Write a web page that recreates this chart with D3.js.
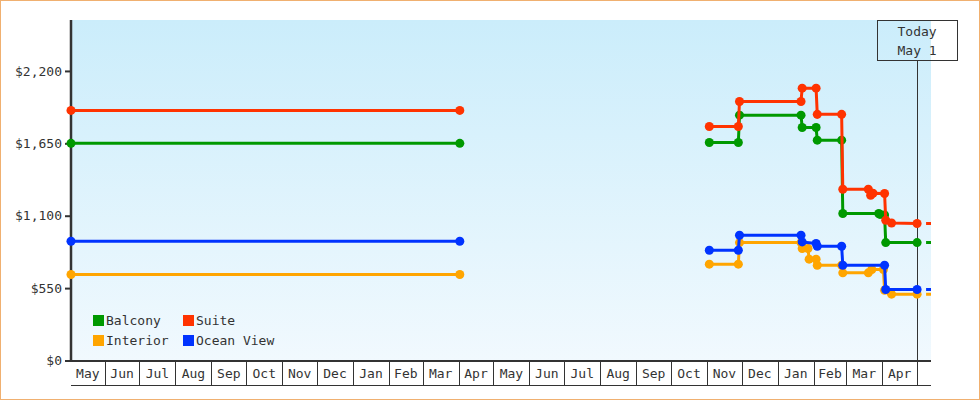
<!DOCTYPE html>
<html>
<head>
<meta charset="utf-8">
<script src="https://cdn.jsdelivr.net/npm/d3@7"></script>
<style>
  html, body { margin: 0; padding: 0; background: #fff; }
  svg { display: block; }
  text { font-family: "DejaVu Sans Mono", "Liberation Mono", monospace; font-size: 13px; fill: #333; }
</style>
</head>
<body>
<svg id="chart" width="980" height="400"></svg>
<script>
// ---------- DATA ----------
const seriesNames = ["Balcony", "Suite", "Interior", "Ocean View"];
const seriesColors = ["#009900", "#ff3300", "#ffa500", "#0033ff"];

const balcony = [
  ["2011-05-03", 1650], ["2012-04-02", 1650],
  ["2012-11-03", 1656], ["2012-11-28", 1656], ["2012-11-29", 1864], ["2013-01-21", 1864],
  ["2013-01-22", 1770], ["2013-02-03", 1770], ["2013-02-04", 1674], ["2013-02-25", 1674],
  ["2013-02-26", 1117], ["2013-03-29", 1117], ["2013-03-30", 1110], ["2013-04-03", 1105],
  ["2013-04-04", 896], ["2013-05-01", 896]
];
const suite = [
  ["2011-05-03", 1900], ["2012-04-02", 1900],
  ["2012-11-03", 1778], ["2012-11-28", 1778], ["2012-11-29", 1968], ["2013-01-21", 1968],
  ["2013-01-22", 2069], ["2013-02-03", 2069], ["2013-02-04", 1870], ["2013-02-25", 1870],
  ["2013-02-26", 1301], ["2013-03-20", 1301], ["2013-03-22", 1256], ["2013-03-24", 1271],
  ["2013-04-03", 1269], ["2013-04-04", 1066], ["2013-04-09", 1045], ["2013-05-01", 1041]
];
const interior = [
  ["2011-05-03", 653], ["2012-04-02", 653],
  ["2012-11-03", 732], ["2012-11-28", 732], ["2012-11-29", 896], ["2013-01-21", 896],
  ["2013-01-22", 851], ["2013-01-27", 851], ["2013-01-28", 770], ["2013-02-03", 770],
  ["2013-02-04", 724], ["2013-02-25", 724], ["2013-02-26", 666], ["2013-03-20", 666],
  ["2013-03-23", 691], ["2013-04-02", 691], ["2013-04-03", 534], ["2013-04-09", 504],
  ["2013-05-01", 504]
];
const oceanView = [
  ["2011-05-03", 906], ["2012-04-02", 906],
  ["2012-11-03", 838], ["2012-11-28", 838], ["2012-11-29", 952], ["2013-01-21", 952],
  ["2013-01-22", 901], ["2013-02-03", 889], ["2013-02-04", 868], ["2013-02-25", 868],
  ["2013-02-26", 724], ["2013-04-03", 724], ["2013-04-04", 539], ["2013-05-01", 539]
];

const yTicks = [0, 550, 1100, 1650, 2200];
const monthLabels = ["May","Jun","Jul","Aug","Sep","Oct","Nov","Dec","Jan","Feb","Mar","Apr",
                     "May","Jun","Jul","Aug","Sep","Oct","Nov","Dec","Jan","Feb","Mar","Apr"];
const todayDate = "2013-05-01";
const todayLabel = ["Today", "May 1"];
const domainStart = "2011-05-03";
const domainEnd = "2013-05-13";

// ---------- LAYOUT ----------
const parse = d3.timeParse("%Y-%m-%d");
const svg = d3.select("#chart");
const W = 980, H = 400;
const plot = { left: 71, right: 931, top: 20, bottom: 360.5 };

const x = d3.scaleTime().domain([parse(domainStart), parse(domainEnd)]).range([plot.left, plot.right]);
const y = d3.scaleLinear().domain([0, 2587]).range([plot.bottom, plot.top]);

// outer frame
svg.append("rect").attr("x", 0.5).attr("y", 0.5).attr("width", W - 1).attr("height", H - 1)
  .attr("fill", "#fff").attr("stroke", "#f0b070");

// background gradient
const defs = svg.append("defs");
const grad = defs.append("linearGradient").attr("id", "bg").attr("x1", 0).attr("y1", 0).attr("x2", 0).attr("y2", 1);
grad.append("stop").attr("offset", "0%").attr("stop-color", "#cbedfb");
grad.append("stop").attr("offset", "100%").attr("stop-color", "#f1f9fe");
svg.append("rect").attr("x", plot.left).attr("y", plot.top)
  .attr("width", plot.right - plot.left).attr("height", plot.bottom - plot.top)
  .attr("fill", "url(#bg)");

defs.append("clipPath").attr("id", "clip").append("rect")
  .attr("x", plot.left - 6).attr("y", plot.top - 6)
  .attr("width", plot.right - plot.left + 6).attr("height", plot.bottom - plot.top + 12);

// x axis month cells
const months = d3.timeMonth.range(d3.timeMonth.ceil(x.domain()[0]), x.domain()[1]);
const axTop = 361, axBot = 385;
const gx = svg.append("g");
gx.append("line").attr("x1", plot.left).attr("x2", plot.right).attr("y1", axBot + 0.5).attr("y2", axBot + 0.5)
  .attr("stroke", "#333").attr("stroke-width", 1);
months.forEach(m => {
  const xx = Math.round(x(m)) + 0.5;
  gx.append("line").attr("x1", xx).attr("x2", xx).attr("y1", axTop).attr("y2", axBot)
    .attr("stroke", "#333").attr("stroke-width", 1);
});
const cellStarts = [x.domain()[0]].concat(months);
cellStarts.forEach((s, i) => {
  if (i >= monthLabels.length) return;
  const e = d3.timeMonth.offset(d3.timeMonth.floor(s), 1);
  gx.append("text").attr("x", (x(s) + x(e)) / 2).attr("y", 378)
    .attr("text-anchor", "middle").text(monthLabels[i]);
});
gx.append("line").attr("x1", 65).attr("x2", plot.right).attr("y1", axTop).attr("y2", axTop)
  .attr("stroke", "#333").attr("stroke-width", 2);

// y axis
const gy = svg.append("g").attr("transform", `translate(${plot.left},0)`)
  .call(d3.axisLeft(y).tickValues(yTicks).tickFormat(d3.format("$,")).tickSizeOuter(0).tickSize(6).tickPadding(3));
gy.select(".domain").remove();
gy.selectAll(".tick line").attr("stroke", "#333").attr("stroke-width", 2);
gy.selectAll(".tick text").attr("font-family", null).attr("font-size", null).style("fill", "#333");
svg.append("line").attr("x1", plot.left).attr("x2", plot.left).attr("y1", plot.top).attr("y2", axTop + 1)
  .attr("stroke", "#333").attr("stroke-width", 2.5);

// today marker
const tx = x(parse(todayDate));
svg.append("line").attr("x1", Math.round(tx) + 0.5).attr("x2", Math.round(tx) + 0.5)
  .attr("y1", 60).attr("y2", axTop).attr("stroke", "#333").attr("stroke-width", 1);
svg.append("rect").attr("x", Math.round(tx) - 40 + 0.5).attr("y", 20.5).attr("width", 80).attr("height", 40)
  .attr("fill", "none").attr("stroke", "#333");
todayLabel.forEach((t, i) => {
  svg.append("text").attr("x", tx).attr("y", 36 + i * 18.5).attr("text-anchor", "middle").text(t);
});

// series
const allSeries = [
  { name: "Interior", data: interior, color: seriesColors[2] },
  { name: "Balcony", data: balcony, color: seriesColors[0] },
  { name: "Ocean View", data: oceanView, color: seriesColors[3] },
  { name: "Suite", data: suite, color: seriesColors[1] }
];
const line = d3.line().x(d => x(parse(d[0]))).y(d => y(d[1]));
const gs = svg.append("g").attr("clip-path", "url(#clip)");
allSeries.forEach(s => {
  const left = s.data.slice(0, 2), right = s.data.slice(2);
  [left, right].forEach(seg => {
    gs.append("path").datum(seg).attr("d", line).attr("fill", "none")
      .attr("stroke", s.color).attr("stroke-width", 3).attr("stroke-linejoin", "round");
  });
  const last = s.data[s.data.length - 1];
  gs.append("line")
    .attr("x1", x(parse(last[0]))).attr("x2", x(parse(domainEnd)))
    .attr("y1", y(last[1])).attr("y2", y(last[1]))
    .attr("stroke", s.color).attr("stroke-width", 3)
    .attr("stroke-dasharray", "5,9").attr("stroke-dashoffset", 5);
  gs.selectAll(null).data(s.data).join("path")
    .attr("transform", d => `translate(${x(parse(d[0]))},${y(d[1])})`)
    .attr("d", d3.symbol(d3.symbolCircle, 64))
    .attr("fill", s.color);
});

// legend
const legendPos = [[93, 315], [183, 315], [93, 335], [183, 335]];
seriesNames.forEach((n, i) => {
  const [lx, ly] = legendPos[i];
  svg.append("rect").attr("x", lx).attr("y", ly).attr("width", 11).attr("height", 11).attr("fill", seriesColors[i]);
  svg.append("text").attr("x", lx + 13).attr("y", ly + 9.5).text(n);
});
</script>
</body>
</html>
